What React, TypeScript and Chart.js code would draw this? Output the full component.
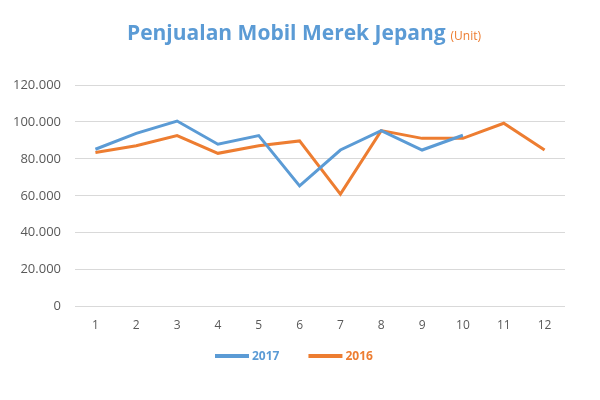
import React, { useEffect, useRef } from "react";
import { Chart, registerables } from "chart.js";

Chart.register(...registerables);

const months = ["1", "2", "3", "4", "5", "6", "7", "8", "9", "10", "11", "12"];
const sales2017 = [85200, 93800, 100500, 87900, 92600, 65400, 84800, 95300, 84800, 92800, null, null];
const sales2016 = [83500, 87100, 92600, 83000, 87100, 89700, 60900, 95300, 91100, 91100, 99300, 84800];
const titleMain = "Penjualan Mobil Merek Jepang";
const titleUnit = "(Unit)";

const BLUE = "#5b9bd5";
const ORANGE = "#ed7d31";

const titlePlugin = {
  id: "customTitle",
  afterDraw(chart: any) {
    const ctx = chart.ctx;
    ctx.save();
    ctx.textBaseline = "alphabetic";
    ctx.font = "bold 21px 'Open Sans'";
    const w1 = ctx.measureText(titleMain).width;
    ctx.font = "12px 'Open Sans'";
    const w2 = ctx.measureText(titleUnit).width;
    const gap = 5;
    const total = w1 + gap + w2;
    const start = 304 - total / 2;
    ctx.font = "bold 21px 'Open Sans'";
    ctx.fillStyle = BLUE;
    ctx.fillText(titleMain, start, 40);
    ctx.font = "12px 'Open Sans'";
    ctx.fillStyle = ORANGE;
    ctx.fillText(titleUnit, start + w1 + gap, 40);
    ctx.restore();
  },
};

const legendPlugin = {
  id: "customLegend",
  afterDraw(chart: any) {
    const ctx = chart.ctx;
    ctx.save();
    ctx.font = "bold 12px 'Open Sans'";
    ctx.textBaseline = "middle";
    const y = 356;
    let x = 215;
    const lineLen = 34;
    chart.data.datasets.forEach((ds: any) => {
      ctx.strokeStyle = ds.borderColor;
      ctx.lineWidth = 4;
      ctx.beginPath();
      ctx.moveTo(x, y);
      ctx.lineTo(x + lineLen, y);
      ctx.stroke();
      ctx.fillStyle = ds.borderColor;
      const tx = x + lineLen + 3;
      ctx.fillText(ds.label, tx, y + 1);
      x = tx + ctx.measureText(ds.label).width + 29;
    });
    ctx.restore();
  },
};

export default function App() {
  const ref = useRef<HTMLCanvasElement>(null);
  useEffect(() => {
    if (!ref.current) return;
    const chart = new Chart(ref.current, {
      type: "line",
      data: {
        labels: months,
        datasets: [
          {
            label: "2017",
            data: sales2017,
            borderColor: BLUE,
            backgroundColor: BLUE,
            borderWidth: 3,
            pointRadius: 0,
            tension: 0,
            spanGaps: false,
          },
          {
            label: "2016",
            data: sales2016,
            borderColor: ORANGE,
            backgroundColor: ORANGE,
            borderWidth: 3,
            pointRadius: 0,
            tension: 0,
          },
        ],
      },
      options: {
        responsive: false,
        animation: false,
        layout: { padding: { top: 85, right: 35, left: 0, bottom: 55 } },
        plugins: {
          title: { display: false },
          tooltip: { enabled: false },
          legend: { display: false },
        },
        scales: {
          x: {
            offset: true,
            grid: { display: false, drawTicks: false },
            border: { display: false },
            ticks: {
              color: "#595959",
              padding: 12,
              font: { family: "'Open Sans'", size: 12 },
            },
          },
          y: {
            min: 0,
            max: 120000,
            afterFit(scale: any) {
              scale.width = 75;
            },
            grid: { color: "#d9d9d9", lineWidth: 1, drawTicks: false },
            border: { display: false },
            ticks: {
              stepSize: 20000,
              color: "#595959",
              padding: 14,
              font: { family: "'Open Sans'", size: 13 },
              callback: (v: any) =>
                Number(v) === 0 ? "0" : Number(v).toLocaleString("de-DE", { minimumFractionDigits: 0 }).replace(/,/g, "."),
            },
          },
        },
      },
      plugins: [titlePlugin, legendPlugin],
    });
    return () => chart.destroy();
  }, []);
  return (
    <div style={{ position: "absolute", left: 0, top: 0, width: 600, height: 400, background: "#fff" }}>
      <canvas ref={ref} width={600} height={400} />
    </div>
  );
}
